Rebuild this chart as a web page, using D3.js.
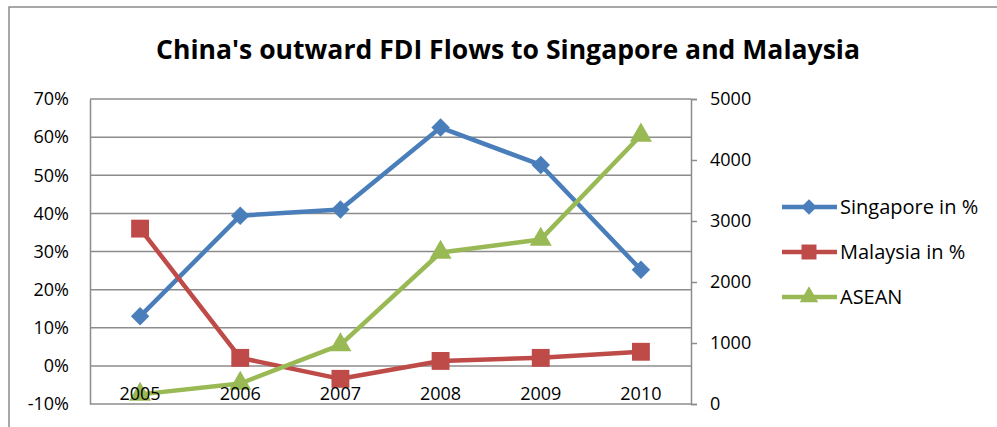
<!DOCTYPE html>
<html>
<head>
<meta charset="utf-8">
<script src="https://cdn.jsdelivr.net/npm/d3@7"></script>
<style>
  body { margin: 0; background: #fff; }
  svg { display: block; font-family: "Open Sans", "Liberation Sans", sans-serif; }
</style>
</head>
<body>
<svg id="chart" width="997" height="427"></svg>
<script>
// data
const years = ["2005", "2006", "2007", "2008", "2009", "2010"];
const singapore = [0.13, 0.394, 0.41, 0.625, 0.527, 0.252];
const malaysia = [0.36, 0.021, -0.034, 0.013, 0.021, 0.037];
const asean = [158, 336, 968, 2484, 2698, 4405];
const leftTicks = [-0.1, 0, 0.1, 0.2, 0.3, 0.4, 0.5, 0.6, 0.7];
const rightTicks = [0, 1000, 2000, 3000, 4000, 5000];

const svg = d3.select("#chart");
const plotL = 90, plotR = 691, plotT = 99, plotB = 404;

// outer chart border (runs off the right / bottom edges)
svg.append("rect")
  .attr("x", 9).attr("y", 7).attr("width", 1000).attr("height", 440)
  .attr("fill", "none").attr("stroke", "#8a8a8a").attr("stroke-width", 1.5);

svg.append("text")
  .attr("x", 508).attr("y", 59)
  .attr("text-anchor", "middle")
  .attr("font-size", 27).attr("font-weight", "bold")
  .attr("textLength", 704).attr("lengthAdjust", "spacingAndGlyphs")
  .text("China's outward FDI Flows to Singapore and Malaysia");

const x = d3.scaleBand().domain(years).range([plotL, plotR]);
const yL = d3.scaleLinear().domain([-0.1, 0.7]).range([plotB, plotT]);
const yR = d3.scaleLinear().domain([0, 5000]).range([plotB, plotT]);

// gridlines
svg.append("g").selectAll("line")
  .data(leftTicks)
  .enter().append("line")
  .attr("x1", plotL).attr("x2", plotR)
  .attr("y1", d => yL(d)).attr("y2", d => yL(d))
  .attr("stroke", "#8c8c8c").attr("stroke-width", 1.5);

// left axis (plain hyphen for the minus, like the original)
const pct = d => Math.round(d * 100) + "%";
const gl = svg.append("g").attr("transform", `translate(${plotL},0)`)
  .call(d3.axisLeft(yL).tickValues(leftTicks).tickFormat(pct).tickSize(0).tickPadding(21));
gl.select(".domain").attr("stroke", "#8c8c8c").attr("stroke-width", 1.5);
gl.selectAll("text").attr("font-size", 18).attr("fill", "#000").attr("font-family", "Open Sans");

// right axis
const gr = svg.append("g").attr("transform", `translate(${plotR},0)`)
  .call(d3.axisRight(yR).tickValues(rightTicks).tickFormat(d => String(d)).tickSize(6).tickPadding(13));
gr.select(".domain").attr("stroke", "#8c8c8c").attr("stroke-width", 1.5);
gr.selectAll(".tick line").attr("stroke", "#8c8c8c").attr("stroke-width", 1.5);
gr.selectAll("text").attr("font-size", 18).attr("fill", "#000").attr("font-family", "Open Sans");

// diamond = square turned 45deg (d3's own diamond is too narrow)
const series = [
  { name: "Singapore in %", values: singapore, y: yL, color: "#4a7ebb", marker: d3.symbolSquare, size: 170, rot: 45 },
  { name: "Malaysia in %", values: malaysia, y: yL, color: "#be4b48", marker: d3.symbolSquare, size: 320, rot: 0 },
  { name: "ASEAN", values: asean, y: yR, color: "#98b954", marker: d3.symbolTriangle, size: 210, rot: 0 }
];

const line = d3.line();

series.forEach(s => {
  const pts = s.values.map((v, i) => [x(years[i]) + x.bandwidth() / 2, s.y(v)]);
  svg.append("path")
    .attr("d", line(pts))
    .attr("fill", "none")
    .attr("stroke", s.color)
    .attr("stroke-width", 4.5)
    .attr("stroke-linejoin", "round");
  svg.append("g").selectAll("path")
    .data(pts)
    .enter().append("path")
    .attr("transform", d => `translate(${d[0]},${d[1]}) rotate(${s.rot})`)
    .attr("d", d3.symbol(s.marker, s.size))
    .attr("fill", s.color);
});

// category labels sit just under the 0% line, drawn over the lines
svg.append("g").selectAll("text")
  .data(years)
  .enter().append("text")
  .attr("x", d => x(d) + x.bandwidth() / 2)
  .attr("y", 400)
  .attr("text-anchor", "middle")
  .attr("font-size", 18)
  .text(d => d);

// legend
const legend = svg.append("g");
series.forEach((s, i) => {
  const ly = 207 + i * 45;
  legend.append("line")
    .attr("x1", 782).attr("x2", 837).attr("y1", ly).attr("y2", ly)
    .attr("stroke", s.color).attr("stroke-width", 4.5);
  legend.append("path")
    .attr("transform", `translate(809,${ly}) rotate(${s.rot})`)
    .attr("d", d3.symbol(s.marker, s.size * 0.7))
    .attr("fill", s.color);
  legend.append("text")
    .attr("x", 840).attr("y", ly + 7)
    .attr("font-size", 20)
    .text(s.name);
});
</script>
</body>
</html>
